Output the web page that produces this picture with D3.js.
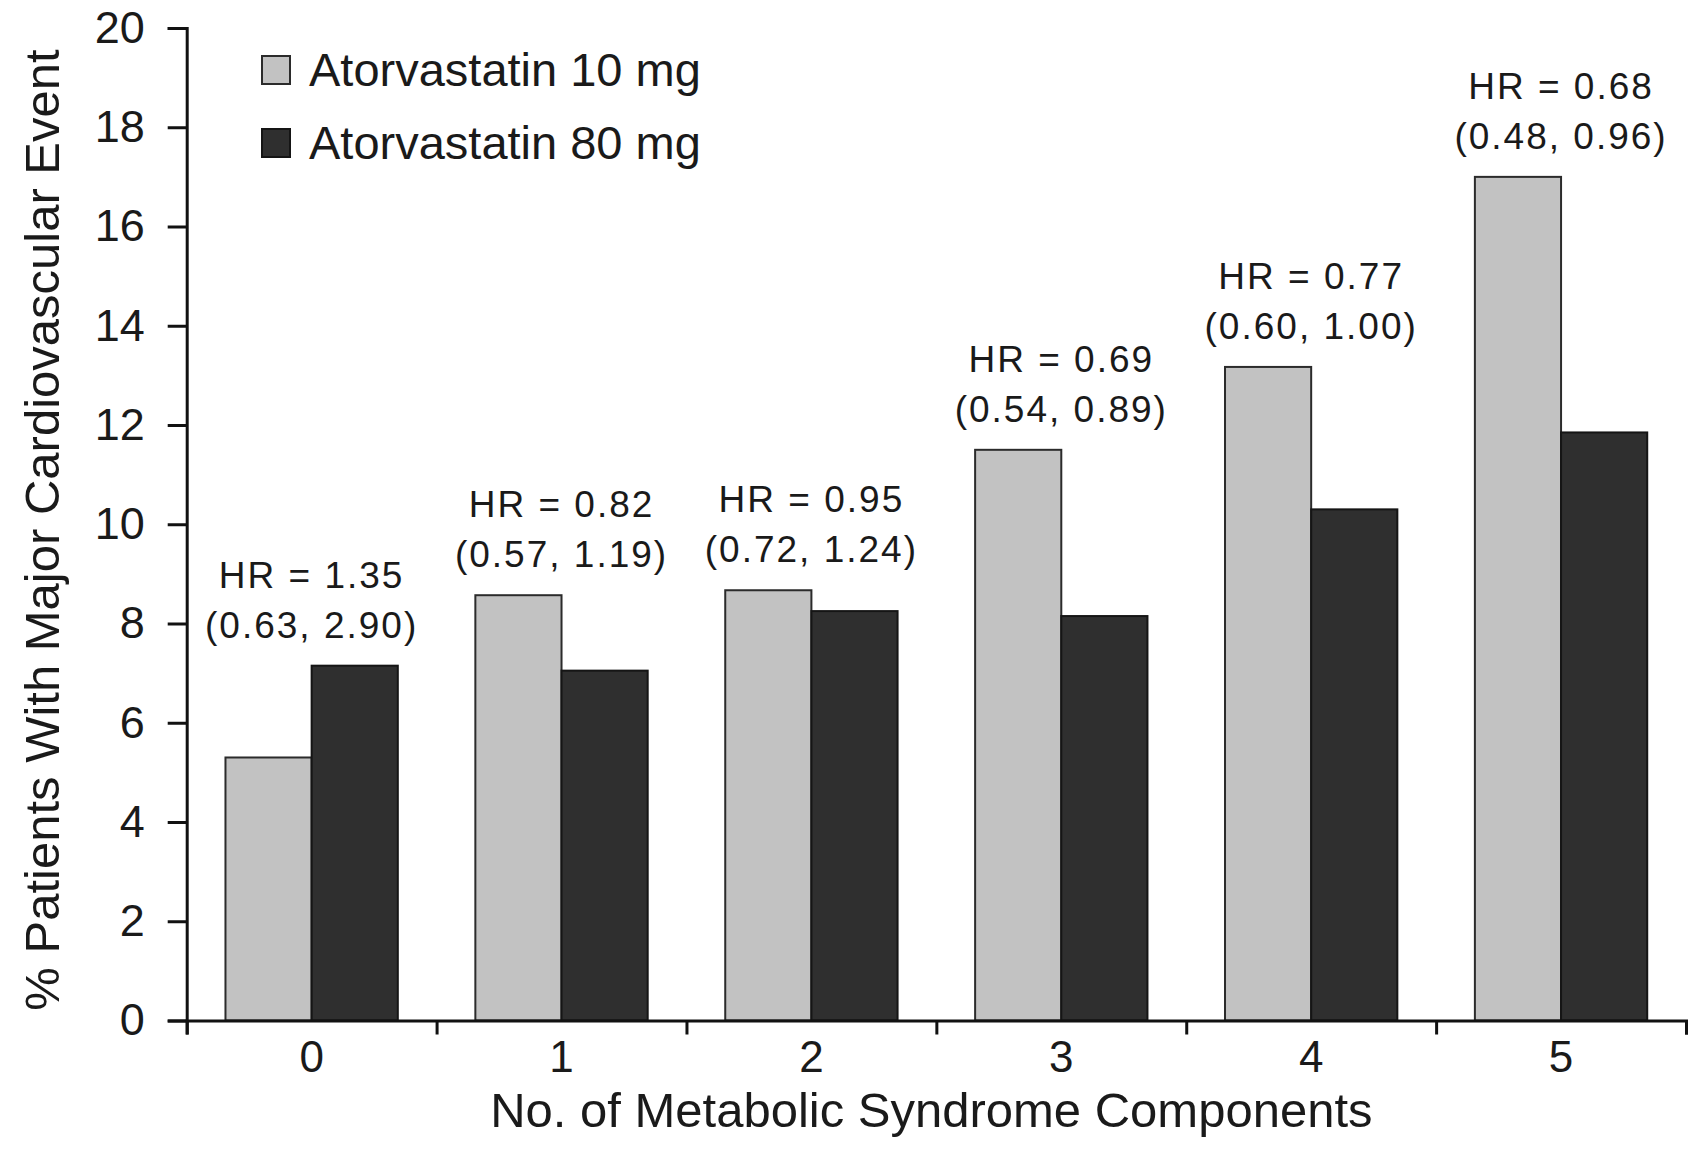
<!DOCTYPE html>
<html>
<head>
<meta charset="utf-8">
<script src="https://cdn.jsdelivr.net/npm/d3@7"></script>
<style>
  html, body { margin: 0; padding: 0; background: #fff; }
  svg { display: block; font-family: "Liberation Sans", Arial, Helvetica, sans-serif; }
</style>
</head>
<body>
<svg id="chart" width="1689" height="1153"></svg>
<script>
// Number of metabolic syndrome components
const categories = ["0", "1", "2", "3", "4", "5"];
const seriesNames = ["Atorvastatin 10 mg", "Atorvastatin 80 mg"];
// % patients with a major cardiovascular event
const atorva10 = [5.3, 8.57, 8.67, 11.5, 13.17, 17.0];
const atorva80 = [7.15, 7.05, 8.25, 8.15, 10.3, 11.85];
// Hazard ratios (80 mg vs 10 mg) with 95% CI
const hrLabels = ["HR = 1.35", "HR = 0.82", "HR = 0.95", "HR = 0.69", "HR = 0.77", "HR = 0.68"];
const ciLabels = ["(0.63, 2.90)", "(0.57, 1.19)", "(0.72, 1.24)", "(0.54, 0.89)", "(0.60, 1.00)", "(0.48, 0.96)"];
const yTicks = [0, 2, 4, 6, 8, 10, 12, 14, 16, 18, 20];

const fills = ["#c2c2c2", "#2f2f2f"];
const strokes = ["#2b2b2b", "#151515"];
const ink = "#1a1a1a";

const svg = d3.select("#chart");
const plot = { left: 186.7, right: 1686, top: 28, bottom: 1020.5 };

const x0 = d3.scaleBand().domain(categories).range([plot.left, plot.right]).padding(0);
const x1 = d3.scaleBand().domain(seriesNames).range([0, x0.bandwidth()])
  .paddingInner(0).paddingOuter(0.45);
const y = d3.scaleLinear().domain([0, 20]).range([plot.bottom, plot.top]);

const rows = categories.map((c, i) => ({
  cat: c, values: [atorva10[i], atorva80[i]], hr: hrLabels[i], ci: ciLabels[i]
}));

// Bars
const groups = svg.append("g").selectAll("g").data(rows).join("g")
  .attr("transform", d => `translate(${x0(d.cat)},0)`);
groups.selectAll("rect")
  .data(d => d.values.map((v, k) => ({ v, k })))
  .join("rect")
  .attr("x", d => x1(seriesNames[d.k]))
  .attr("width", x1.bandwidth())
  .attr("y", d => y(d.v))
  .attr("height", d => y(0) - y(d.v))
  .attr("fill", d => fills[d.k])
  .attr("stroke", d => strokes[d.k])
  .attr("stroke-width", 2);

// Hazard ratio annotations above each group
const ann = svg.append("g").attr("fill", ink).attr("font-size", 37)
  .attr("letter-spacing", "2px").attr("text-anchor", "middle");
rows.forEach(d => {
  const cx = x0(d.cat) + x0.bandwidth() / 2;
  const base = y(d3.max(d.values)) - 28;
  ann.append("text").attr("x", cx).attr("y", base - 50).text(d.hr);
  ann.append("text").attr("x", cx).attr("y", base).text(d.ci);
});

// Y axis
const yAxis = svg.append("g").attr("transform", `translate(${plot.left},0)`)
  .call(d3.axisLeft(y).tickValues(yTicks).tickSize(19).tickPadding(23));
yAxis.selectAll("text").attr("font-size", 45).attr("fill", ink)
  .attr("font-family", "Liberation Sans, Arial, sans-serif");

// X axis: labels at centers, ticks at group boundaries
const xAxis = svg.append("g").attr("transform", `translate(0,${plot.bottom})`)
  .call(d3.axisBottom(x0).tickSize(0).tickPadding(20));
xAxis.select(".domain").remove();
xAxis.selectAll("text").attr("font-size", 44).attr("fill", ink)
  .attr("font-family", "Liberation Sans, Arial, sans-serif");

const xb = d3.scaleLinear().domain([0, categories.length]).range([plot.left, plot.right]);
svg.append("g").attr("transform", `translate(0,${plot.bottom})`)
  .call(d3.axisBottom(xb).ticks(categories.length).tickFormat("").tickSize(14));

svg.selectAll(".domain, .tick line").attr("stroke", "#111").attr("stroke-width", 3);

// Axis titles
svg.append("text")
  .attr("transform", "translate(59,530) rotate(-90)")
  .attr("text-anchor", "middle").attr("font-size", 49).attr("fill", ink)
  .text("% Patients With Major Cardiovascular Event");

svg.append("text")
  .attr("x", (plot.left + plot.right) / 2 - 5).attr("y", 1127)
  .attr("text-anchor", "middle").attr("font-size", 49).attr("fill", ink)
  .text("No. of Metabolic Syndrome Components");

// Legend
const legend = svg.append("g").attr("transform", "translate(262,56)");
seriesNames.forEach((name, k) => {
  const g = legend.append("g").attr("transform", `translate(0,${k * 73})`);
  g.append("rect").attr("width", 28).attr("height", 28)
    .attr("fill", fills[k]).attr("stroke", strokes[k]).attr("stroke-width", 2);
  g.append("text").attr("x", 47).attr("y", 30).attr("font-size", 47)
    .attr("fill", ink).text(name);
});
</script>
</body>
</html>
